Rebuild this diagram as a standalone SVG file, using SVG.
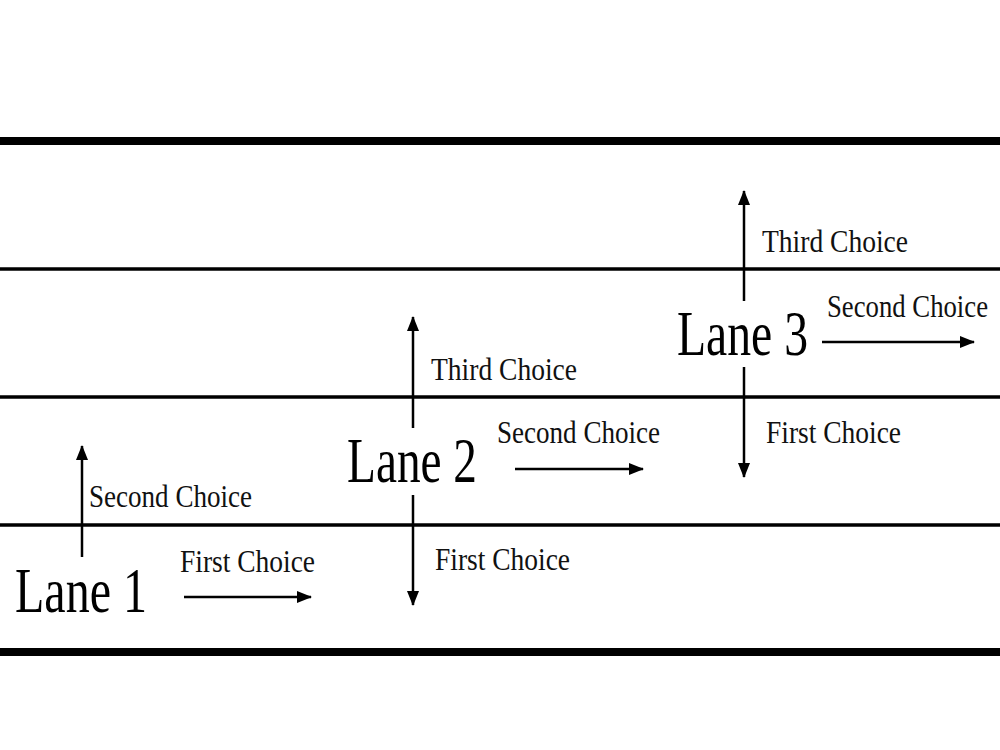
<svg xmlns="http://www.w3.org/2000/svg" width="1000" height="750" viewBox="0 0 1000 750">
<style>
.road{stroke:#000;fill:none}
.thick{stroke-width:8}
.thin{stroke-width:3.5}
.arr{stroke:#000;stroke-width:2.5;fill:none;marker-end:url(#ah)}
.lbl{font-family:"Liberation Serif","Times New Roman",serif;font-size:32px;fill:#111}
.lane{font-family:"Liberation Serif","Times New Roman",serif;font-size:64px;fill:#000}
</style>
<defs>
<marker id="ah" markerUnits="userSpaceOnUse" markerWidth="15" markerHeight="12" refX="14" refY="6" orient="auto">
<path d="M0,0 L15,6 L0,12 Z" fill="#000"/>
</marker>
</defs>
<rect width="1000" height="750" fill="#fff"/>
<g id="road">
<line class="road thick" x1="0" y1="141" x2="1000" y2="141"/>
<line class="road thin" x1="0" y1="269" x2="1000" y2="269"/>
<line class="road thin" x1="0" y1="397" x2="1000" y2="397"/>
<line class="road thin" x1="0" y1="525" x2="1000" y2="525"/>
<line class="road thick" x1="0" y1="652" x2="1000" y2="652"/>
</g>
<g id="connectors">
<line class="arr" x1="82" y1="557" x2="82" y2="446"/>
<line class="arr" x1="184" y1="597" x2="311" y2="597"/>
<line class="arr" x1="413" y1="428" x2="413" y2="317"/>
<line class="arr" x1="413" y1="495" x2="413" y2="605"/>
<line class="arr" x1="515" y1="469" x2="643" y2="469"/>
<line class="arr" x1="744" y1="301" x2="744" y2="191"/>
<line class="arr" x1="744" y1="367" x2="744" y2="477"/>
<line class="arr" x1="822" y1="342" x2="974" y2="342"/>
</g>
<g id="lane1">
<text class="lane" x="15" y="612" textLength="132" lengthAdjust="spacingAndGlyphs">Lane 1</text>
<text class="lbl" x="89" y="507" textLength="163" lengthAdjust="spacingAndGlyphs">Second Choice</text>
<text class="lbl" x="180" y="572" textLength="135" lengthAdjust="spacingAndGlyphs">First Choice</text>
</g>
<g id="lane2">
<text class="lane" x="347" y="482" textLength="130" lengthAdjust="spacingAndGlyphs">Lane 2</text>
<text class="lbl" x="431" y="380" textLength="146" lengthAdjust="spacingAndGlyphs">Third Choice</text>
<text class="lbl" x="497" y="443" textLength="163" lengthAdjust="spacingAndGlyphs">Second Choice</text>
<text class="lbl" x="435" y="570" textLength="135" lengthAdjust="spacingAndGlyphs">First Choice</text>
</g>
<g id="lane3">
<text class="lane" x="677" y="355" textLength="131" lengthAdjust="spacingAndGlyphs">Lane 3</text>
<text class="lbl" x="762" y="252" textLength="146" lengthAdjust="spacingAndGlyphs">Third Choice</text>
<text class="lbl" x="827" y="317" textLength="161" lengthAdjust="spacingAndGlyphs">Second Choice</text>
<text class="lbl" x="766" y="443" textLength="135" lengthAdjust="spacingAndGlyphs">First Choice</text>
</g>
</svg>
